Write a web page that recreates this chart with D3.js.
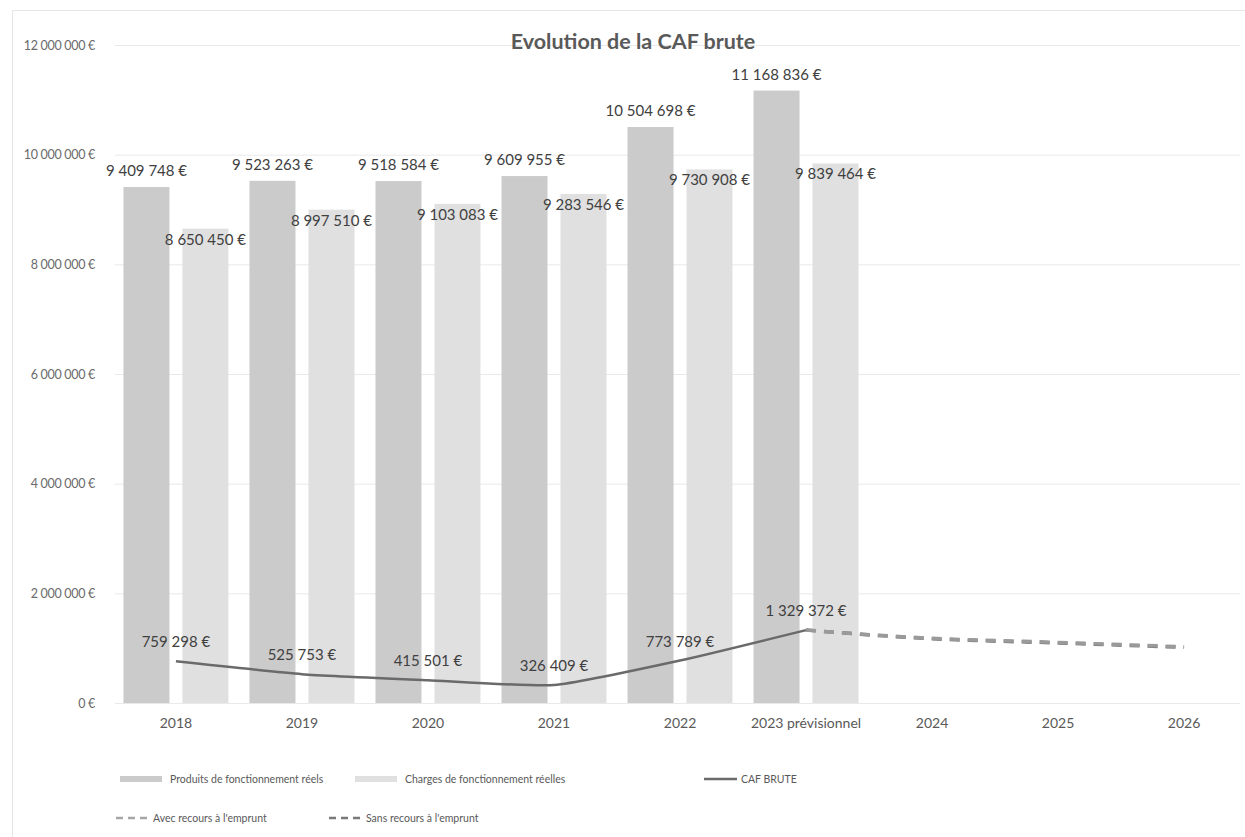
<!DOCTYPE html>
<html lang="fr">
<head>
<meta charset="utf-8">
<script src="https://cdn.jsdelivr.net/npm/d3@7"></script>
<style>
  html, body { margin: 0; padding: 0; background: #fff; }
  svg { display: block; font-family: Lato, "Open Sans", sans-serif; }
</style>
</head>
<body>
<svg id="chart" width="1245" height="837"></svg>
<script>
// Catégories (exercices)
const categories = ["2018", "2019", "2020", "2021", "2022", "2023 prévisionnel", "2024", "2025", "2026"];
// Produits de fonctionnement réels
const produits = [9409748, 9523263, 9518584, 9609955, 10504698, 11168836];
// Charges de fonctionnement réelles
const charges = [8650450, 8997510, 9103083, 9283546, 9730908, 9839464];
// CAF brute
const cafBrute = [759298, 525753, 415501, 326409, 773789, 1329372];
// Projections 2023-2026
const projYears = ["2023 prévisionnel", "2024", "2025", "2026"];
const avecEmprunt = [1329372, 1180000, 1105000, 1025000];
const sansEmprunt = [1329372, 1172000, 1095000, 1015000];
// Graduations de l'axe vertical
const yTicks = [0, 2000000, 4000000, 6000000, 8000000, 10000000, 12000000];

const svg = d3.select("#chart");
const fmt = v => d3.format(",")(v).replace(/,/g, " ") + " €";

const x0 = d3.scaleBand().domain(categories).range([113, 1247]).paddingInner(0.167).paddingOuter(0.083);
const x1 = d3.scaleBand().domain(["p", "c"]).range([0, x0.bandwidth()]).paddingInner(0.22);
const y = d3.scaleLinear().domain([0, 12000000]).range([703, 45]);
const cx = c => x0(c) + x0.bandwidth() / 2;

// Cadre
svg.append("rect").attr("x", 12.5).attr("y", 10.5).attr("width", 1240).attr("height", 840)
  .attr("fill", "none").attr("stroke", "#e6e6e6");

// Grille et axe vertical
const yAxis = d3.axisLeft(y).tickValues(yTicks).tickSize(-(1240 - 115)).tickFormat(fmt).tickPadding(20);
const gy = svg.append("g").attr("transform", "translate(115,0)").call(yAxis);
gy.select(".domain").remove();
gy.selectAll(".tick line").attr("stroke", "#e9e9e9").attr("stroke-width", 1);
gy.selectAll(".tick text").attr("fill", "#6a6a6a").attr("font-size", 12.5)
  .attr("font-family", "Lato, sans-serif").attr("dy", "0.32em").attr("letter-spacing", "-0.3");

// Titre
svg.append("text").attr("x", 633).attr("y", 49).attr("text-anchor", "middle")
  .attr("font-size", 21.5).attr("font-weight", "bold").attr("fill", "#595959")
  .text("Evolution de la CAF brute");

// Barres
const barData = produits.map((p, i) => ({ cat: categories[i], p, c: charges[i] }));
const groups = svg.append("g").selectAll("g").data(barData).join("g")
  .attr("transform", d => `translate(${x0(d.cat)},0)`);
groups.append("rect").attr("x", x1("p")).attr("width", x1.bandwidth())
  .attr("y", d => y(d.p)).attr("height", d => y(0) - y(d.p)).attr("fill", "#cbcbcb");
groups.append("rect").attr("x", x1("c")).attr("width", x1.bandwidth())
  .attr("y", d => y(d.c)).attr("height", d => y(0) - y(d.c)).attr("fill", "#e0e0e0");

// Étiquettes des barres
groups.append("text").attr("x", x1("p") + x1.bandwidth() / 2).attr("y", d => y(d.p) - 11)
  .attr("text-anchor", "middle").attr("font-size", 15).attr("fill", "#404040").text(d => fmt(d.p));
groups.append("text").attr("x", x1("c") + x1.bandwidth() / 2).attr("y", d => y(d.c) + 16)
  .attr("text-anchor", "middle").attr("font-size", 15).attr("fill", "#404040").text(d => fmt(d.c));

// Axe des catégories
const xAxis = d3.axisBottom(x0).tickSize(0).tickPadding(15);
const gx = svg.append("g").attr("transform", `translate(0,${y(0)})`).call(xAxis);
gx.select(".domain").remove();
gx.selectAll(".tick text").attr("fill", "#595959").attr("font-size", 14).attr("font-family", "Lato, sans-serif");

// Projections (lignes pointillées)
const projLine = d3.line().x((d, i) => cx(projYears[i])).y(d => y(d)).curve(d3.curveMonotoneX);
svg.append("path").datum(sansEmprunt).attr("d", projLine).attr("fill", "none")
  .attr("stroke", "#7a7a7a").attr("stroke-width", 3.5).attr("stroke-dasharray", "10,8");
svg.append("path").datum(avecEmprunt).attr("d", projLine).attr("fill", "none")
  .attr("stroke", "#9a9a9a").attr("stroke-width", 3.5).attr("stroke-dasharray", "10,8");

// CAF brute
const cafLine = d3.line().x((d, i) => cx(categories[i])).y(d => y(d)).curve(d3.curveCardinal.tension(0.5));
svg.append("path").datum(cafBrute).attr("d", cafLine).attr("fill", "none")
  .attr("stroke", "#6a6a6a").attr("stroke-width", 2.5);
svg.append("g").selectAll("text").data(cafBrute).join("text")
  .attr("x", (d, i) => cx(categories[i])).attr("y", d => y(d) - 14)
  .attr("text-anchor", "middle").attr("font-size", 15).attr("fill", "#404040").text(d => fmt(d));

// Légende
const leg = svg.append("g").attr("font-size", 10.5).attr("fill", "#595959");
function swatch(x, yy, color, label) {
  leg.append("rect").attr("x", x).attr("y", yy - 3).attr("width", 42).attr("height", 6).attr("fill", color);
  leg.append("text").attr("x", x + 50).attr("y", yy).attr("dy", "0.35em").text(label);
}
function lineKey(x, yy, color, dash, label) {
  leg.append("line").attr("x1", x).attr("x2", x + 33).attr("y1", yy).attr("y2", yy)
    .attr("stroke", color).attr("stroke-width", 2.5).attr("stroke-dasharray", dash);
  leg.append("text").attr("x", x + 37).attr("y", yy).attr("dy", "0.35em").text(label);
}
swatch(120, 779, "#cbcbcb", "Produits de fonctionnement réels");
swatch(355, 779, "#e0e0e0", "Charges de fonctionnement réelles");
lineKey(704, 779, "#6a6a6a", null, "CAF BRUTE");
lineKey(116, 818, "#a6a6a6", "7,5", "Avec recours à l'emprunt");
lineKey(329, 818, "#7a7a7a", "7,5", "Sans recours à l'emprunt");
</script>
</body>
</html>
